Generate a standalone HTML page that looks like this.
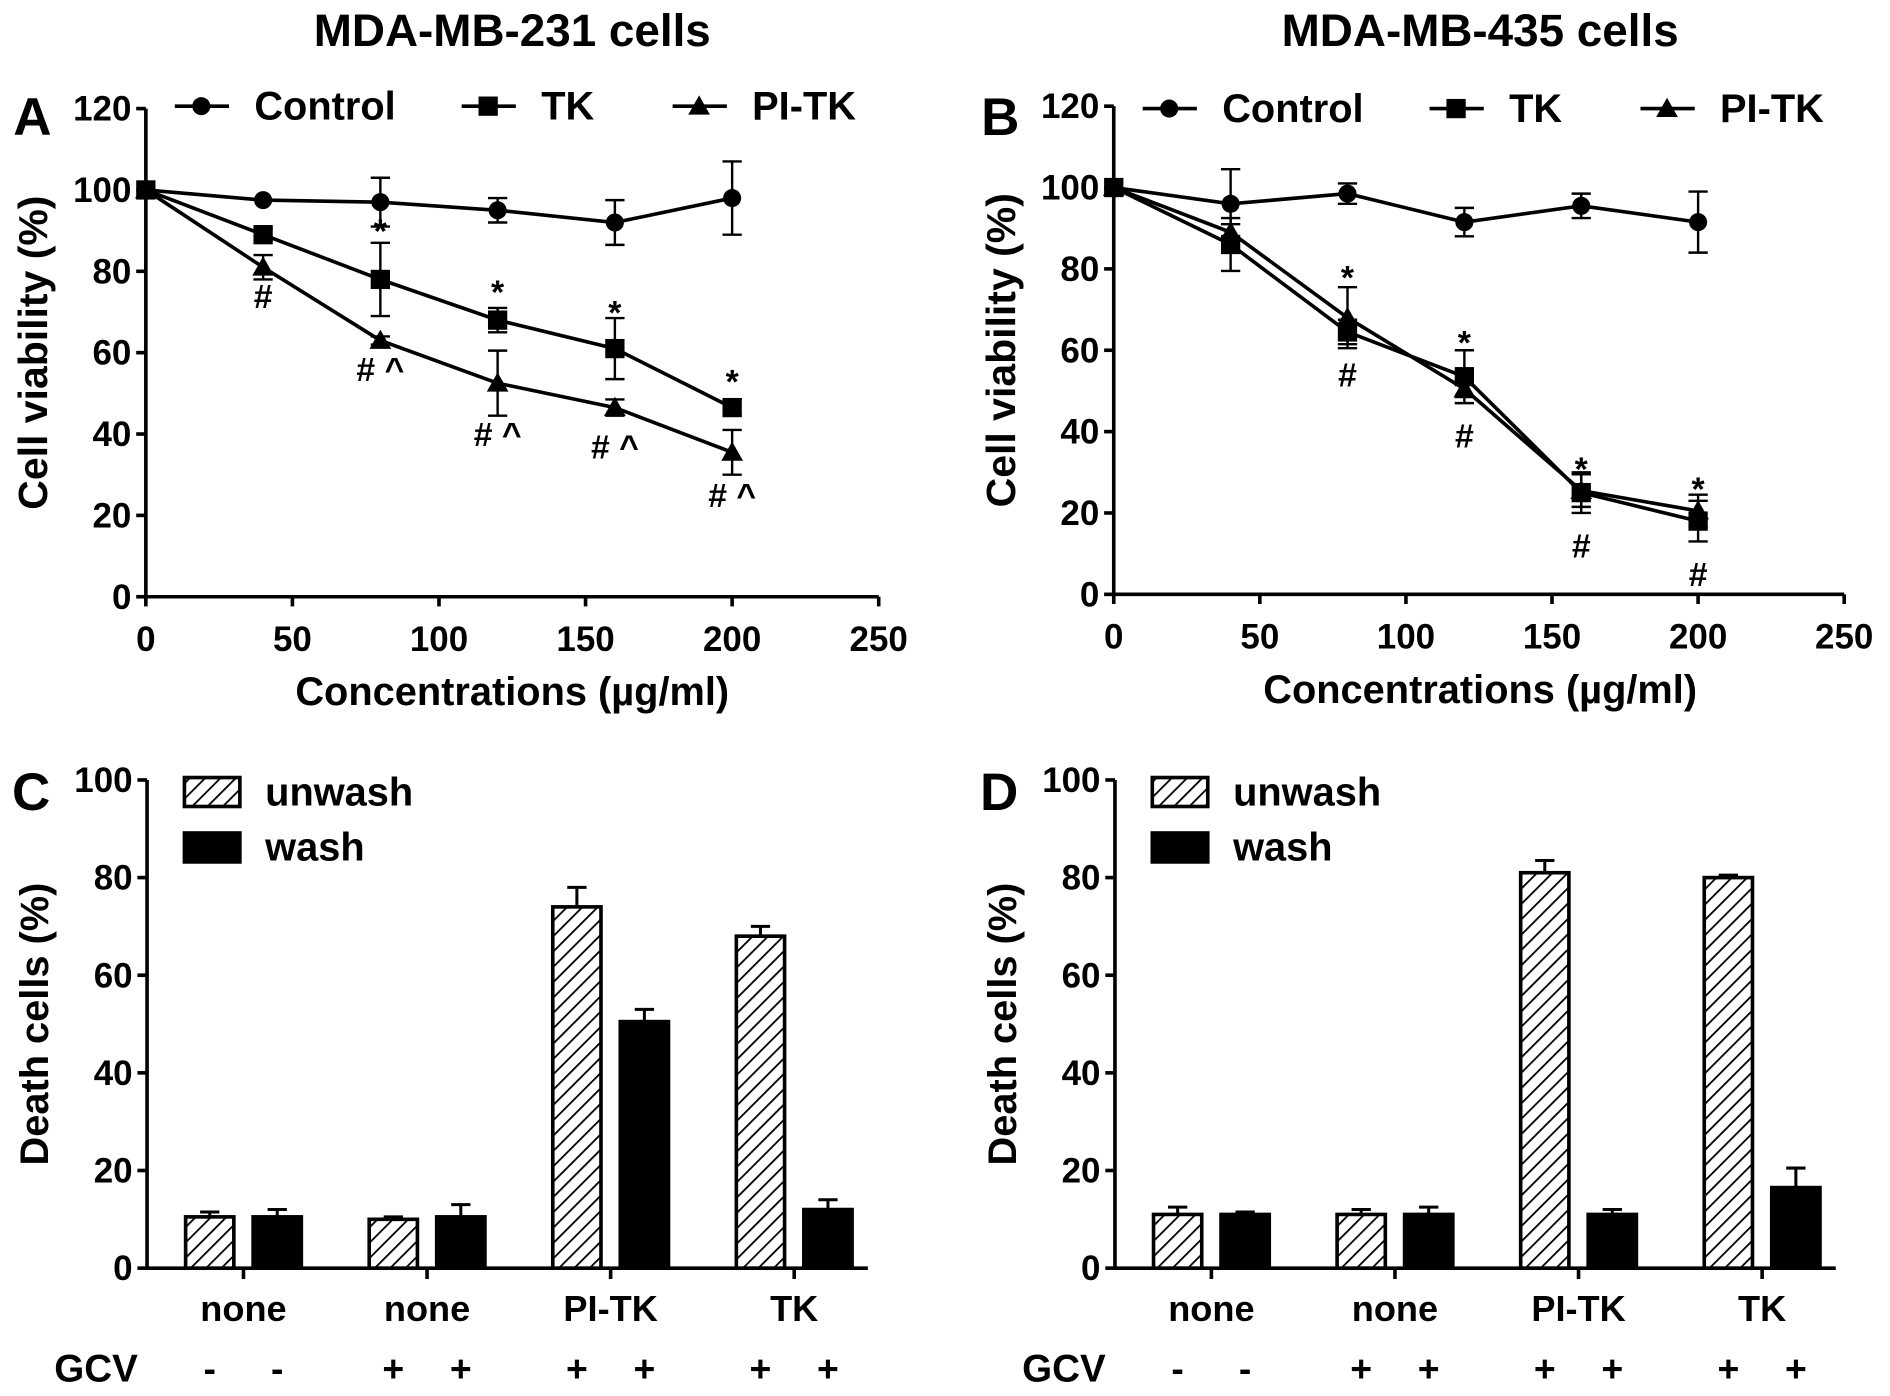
<!DOCTYPE html>
<html><head><meta charset="utf-8"><style>
html,body{margin:0;padding:0;background:#fff;}
svg{display:block;font-family:"Liberation Sans",Arial,sans-serif;font-weight:bold;}
</style></head><body>
<svg id="fig" width="1890" height="1396" viewBox="0 0 1568 1158" xmlns="http://www.w3.org/2000/svg">
<defs>
<pattern id="hatch" patternUnits="userSpaceOnUse" width="9" height="9" patternTransform="rotate(45)">
<rect width="9" height="9" fill="#fff"/><line x1="0" y1="0" x2="0" y2="9" stroke="#000" stroke-width="3"/>
</pattern>
</defs>
<g id="root"></g>
</svg>
<script>
// ---- Data ----
const concentrations = [0, 40, 80, 120, 160, 200];
const xTicks = [0, 50, 100, 150, 200, 250];
const yTicksLine = [0, 20, 40, 60, 80, 100, 120];
const yTicksBar = [0, 20, 40, 60, 80, 100];
const seriesNames = ["Control", "TK", "PI-TK"];
const aControl = [100, 97.5, 97, 95, 92, 98];
const aControlErr = [0, 0, 6, 3, 5.5, 9];
const aTK = [100, 89, 78, 68, 61, 46.5];
const aTKErr = [0, 1.5, 9, 3, 7.5, 2];
const aPITK = [100, 81, 63, 52.5, 46.5, 35.5];
const aPITKErr = [0, 3, 1, 8, 2, 5.5];
const bControl = [100, 96, 98.5, 91.5, 95.5, 91.5];
const bControlErr = [0, 8.5, 2.5, 3.5, 3, 7.5];
const bTK = [100, 86, 64.5, 53.5, 25, 18];
const bTKErr = [0, 6.5, 3, 6.5, 5, 5];
const bPITK = [100, 89, 68, 50.5, 25.5, 20.5];
const bPITKErr = [0, 2, 7.5, 2, 4, 4];
const barCategories = ["none", "none", "PI-TK", "TK"];
const gcvSigns = ["-", "-", "+", "+", "+", "+", "+", "+"];
const cUnwash = [10.5, 10, 74, 68];
const cUnwashErr = [1, 0.5, 4, 2];
const cWash = [10.5, 10.5, 50.5, 12];
const cWashErr = [1.5, 2.5, 2.5, 2];
const dUnwash = [11, 11, 81, 80];
const dUnwashErr = [1.5, 1, 2.5, 0.5];
const dWash = [11, 11, 11, 16.5];
const dWashErr = [0.5, 1.5, 1, 4];
const aAnnot = [[40, 74, "#"], [80, 90, "*"], [80, 56, "# ^"], [120, 75, "*"], [120, 40, "# ^"], [160, 70, "*"], [160, 37, "# ^"], [200, 53, "*"], [200, 25, "# ^"]];
const bAnnot = [[80, 78, "*"], [80, 54, "#"], [120, 62, "*"], [120, 39, "#"], [160, 31, "*"], [160, 12, "#"], [200, 26, "*"], [200, 5, "#"]];

const NS = "http://www.w3.org/2000/svg";
const root = document.getElementById("root");
function mk(tag, attrs, parent, text) {
  const e = document.createElementNS(NS, tag);
  for (const k in attrs) e.setAttribute(k, attrs[k]);
  if (text !== undefined) e.textContent = text;
  (parent || root).appendChild(e);
  return e;
}
function txt(x, y, s, size, anchor, parent, name) {
  const t = mk("text", {x: x, y: y, "font-size": size, "text-anchor": anchor || "middle"}, parent, s);
  
  
  return t;
}
function marker(g, kind, x, y) {
  let m;
  if (kind === 0) m = mk("circle", {cx: x, cy: y, r: 7.5, fill: "#000"}, g);
  else if (kind === 1) m = mk("rect", {x: x - 8, y: y - 8, width: 16, height: 16, fill: "#000"}, g);
  else m = mk("polygon", {points: `${x},${y - 9} ${x + 9},${y + 7} ${x - 9},${y + 7}`, fill: "#000"}, g);
  
  
}

function linePanel(o) {
  const g = mk("g", {});
  
  
  const sx = v => o.x0 + (v / 250) * o.w;
  const sy = v => o.y0 - (v / 120) * o.h;
  txt(o.x0 + 304, 38, o.title, 38, "middle", g, "panel-title");
  txt(o.x0 - 110, 112, o.letter, 44, "start", g, "panel-letter");
  const ax = mk("path", {d: `M${o.x0},${sy(120)} V${o.y0} H${sx(250)}`, stroke: "#000", "stroke-width": 3, fill: "none"}, g);
   
  yTicksLine.forEach(v => {
    mk("line", {x1: o.x0 - 8, x2: o.x0, y1: sy(v), y2: sy(v), stroke: "#000", "stroke-width": 3}, g);
    txt(o.x0 - 12, sy(v) + 10, String(v), 29, "end", g, "y-tick-label");
  });
  xTicks.forEach(v => {
    mk("line", {x1: sx(v), x2: sx(v), y1: o.y0, y2: o.y0 + 8, stroke: "#000", "stroke-width": 3}, g);
    txt(sx(v), o.y0 + 45, String(v), 29, "middle", g, "x-tick-label");
  });
  txt(o.x0 + 304, o.y0 + 90, "Concentrations (\u00b5g/ml)", 33, "middle", g, "x-axis-title");
  const yt = txt(0, 0, "Cell viability (%)", 34, "middle", g, "y-axis-title");
  yt.setAttribute("transform", `translate(${o.x0 - 82},${sy(60)}) rotate(-90)`);
  o.series.forEach((s, k) => {
    const pts = concentrations.map((c, i) => `${sx(c)},${sy(s.v[i])}`).join(" ");
    const pl = mk("polyline", {points: pts, fill: "none", stroke: "#000", "stroke-width": 3}, g);
    
    
    concentrations.forEach((c, i) => {
      const e = s.e[i];
      if (e > 0) {
        const x = sx(c), y1 = sy(s.v[i] + e), y2 = sy(s.v[i] - e);
        const eb = mk("path", {d: `M${x},${y1} V${y2} M${x - 8},${y1} H${x + 8} M${x - 8},${y2} H${x + 8}`, stroke: "#000", "stroke-width": 2, fill: "none"}, g);
         
      }
      marker(g, k, sx(c), sy(s.v[i]));
    });
  });
  o.annot.forEach(a => txt(sx(a[0]), sy(a[1]) + 10, a[2], 28, "middle", g, "significance-mark"));
  const lx = [o.x0 + 24, o.x0 + 262, o.x0 + 437];
  seriesNames.forEach((n, k) => {
    const lg = mk("g", {}, g);
    
    
    mk("line", {x1: lx[k], x2: lx[k] + 45, y1: 88 + o.dy, y2: 88 + o.dy, stroke: "#000", "stroke-width": 3}, lg);
    marker(lg, k, lx[k] + 22, 88 + o.dy);
    txt(lx[k] + 66, 99 + o.dy, n, 33, "start", lg, "legend-label");
  });
}

function barPanel(o) {
  const g = mk("g", {});
  
  
  const y0 = 1052, h = 405;
  const sy = v => y0 - (v / 100) * h;
  const cx = i => o.x0 + 80 + i * 152.3;
  txt(o.x0 - 112, 672, o.letter, 44, "start", g, "panel-letter");
  const ax = mk("path", {d: `M${o.x0},${sy(100)} V${y0} H${o.x0 + 598}`, stroke: "#000", "stroke-width": 3, fill: "none"}, g);
   
  yTicksBar.forEach(v => {
    mk("line", {x1: o.x0 - 8, x2: o.x0, y1: sy(v), y2: sy(v), stroke: "#000", "stroke-width": 3}, g);
    txt(o.x0 - 12, sy(v) + 10, String(v), 29, "end", g, "y-tick-label");
  });
  const yt = txt(0, 0, "Death cells (%)", 33, "middle", g, "y-axis-title");
  yt.setAttribute("transform", `translate(${o.x0 - 82},${sy(50)}) rotate(-90)`);
  const drawBar = (x, v, e, hatched, name) => {
    const eb = mk("path", {d: `M${x + 20},${sy(v)} V${sy(v + e)} M${x + 12},${sy(v + e)} H${x + 28}`, stroke: "#000", "stroke-width": 2.5, fill: "none"}, g);
     
    const r = mk("rect", {x: x, y: sy(v), width: 40, height: y0 - sy(v), fill: hatched ? "url(#hatch)" : "#000", stroke: "#000", "stroke-width": 3}, g);
     
  };
  barCategories.forEach((c, i) => {
    mk("line", {x1: cx(i), x2: cx(i), y1: y0, y2: y0 + 9, stroke: "#000", "stroke-width": 3}, g);
    drawBar(cx(i) - 48, o.un[i], o.unE[i], true, 'bar-unwash-' + i);
    drawBar(cx(i) + 8, o.wa[i], o.waE[i], false, 'bar-wash-' + i);
    txt(cx(i), y0 + 44, c, 30, "middle", g, "x-category-label");
  });
  txt(o.x0 - 77, 1146, "GCV", 32, "start", g, "gcv-label");
  gcvSigns.forEach((s, j) => {
    const i = Math.floor(j / 2);
    txt(cx(i) + (j % 2 ? 28 : -28), 1146, s, 31, "middle", g, "gcv-sign");
  });
  const l1 = mk("rect", {x: o.x0 + 31, y: 645, width: 46, height: 24, fill: "url(#hatch)", stroke: "#000", "stroke-width": 3}, g);
   
  txt(o.x0 + 98, 668, "unwash", 33, "start", g, "legend-label-unwash");
  const l2 = mk("rect", {x: o.x0 + 31, y: 691, width: 46, height: 24, fill: "#000", stroke: "#000", "stroke-width": 3}, g);
   
  txt(o.x0 + 98, 714, "wash", 33, "start", g, "legend-label-wash");
}

linePanel({name: "panel-a", letter: "A", title: "MDA-MB-231 cells", x0: 121, y0: 495, w: 608, h: 405, dy: 0,
  series: [{v: aControl, e: aControlErr}, {v: aTK, e: aTKErr}, {v: aPITK, e: aPITKErr}], annot: aAnnot});
linePanel({name: "panel-b", letter: "B", title: "MDA-MB-435 cells", x0: 924, y0: 493, w: 606, h: 405, dy: 2,
  series: [{v: bControl, e: bControlErr}, {v: bTK, e: bTKErr}, {v: bPITK, e: bPITKErr}], annot: bAnnot});
barPanel({name: "panel-c", letter: "C", x0: 122, un: cUnwash, unE: cUnwashErr, wa: cWash, waE: cWashErr});
barPanel({name: "panel-d", letter: "D", x0: 925, un: dUnwash, unE: dUnwashErr, wa: dWash, waE: dWashErr});
</script>
</body></html>
